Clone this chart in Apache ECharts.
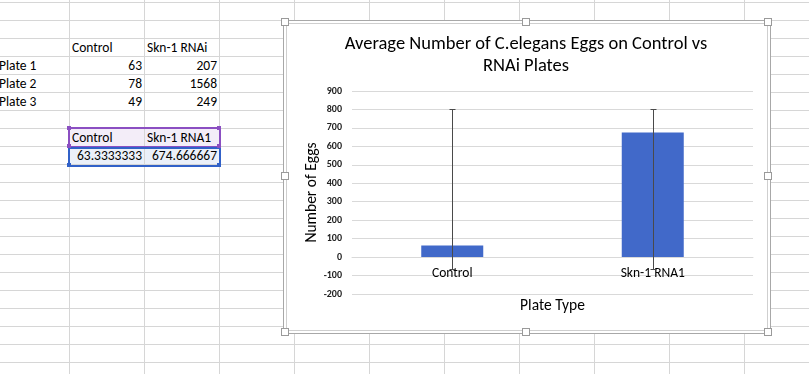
<!DOCTYPE html>
<html>
<head>
<meta charset="utf-8">
<script src="https://cdn.jsdelivr.net/npm/echarts@6/dist/echarts.min.js"></script>
<style>
  html, body { margin:0; padding:0; background:#fff; overflow:hidden; }
  body { width:809px; height:374px; position:relative; font-family: Carlito, Lato, sans-serif; }
  .vl { position:absolute; top:0; width:1px; height:374px; background:#d6d6d6; }
  .hl { position:absolute; left:0; height:1px; width:809px; background:#d6d6d6; }
  .cell { position:absolute; height:17px; line-height:17px; font-size:13.5px; color:#000; white-space:nowrap; }
  .r { text-align:right; }
  #frameOuter { position:absolute; left:283px; top:20px; width:486px; height:312px; background:#fff; border:1px solid #a8a8a8; }
  #frameInner { position:absolute; left:286px; top:23px; width:480px; height:306px; border:1px solid #cfcfcf; }
  .handle { position:absolute; width:6px; height:6px; background:#fff; border:1px solid #9a9a9a; }
  .sq { position:absolute; width:4px; height:4px; }
  #chart { position:absolute; left:0; top:0; width:809px; height:374px; }
</style>
</head>
<body>
<div id="sheet"></div>
<div id="frameOuter"></div>
<div id="frameInner"></div>
<div id="chart"></div>
<div id="handles"></div>
<script>
// ---- data ----
var sheetHeaders = ['Control', 'Skn-1 RNAi'];
var rowLabels = ['Plate 1', 'Plate 2', 'Plate 3'];
var controlEggs = [63, 78, 49];
var rnaiEggs = [207, 1568, 249];
var avgHeaders = ['Control', 'Skn-1 RNA1'];
var avgValues = ['63.3333333', '674.666667'];
var categories = ['Control', 'Skn-1 RNA1'];
var meanEggs = [63.3333333, 674.666667];
var errLow = [-65, -65];
var errHigh = [800, 800];
var yTicks = { min: -200, max: 900, interval: 100 };

// ---- spreadsheet ----
var sheet = document.getElementById('sheet');
function add(cls, style, text) {
  var d = document.createElement('div');
  d.className = cls;
  for (var k in style) d.style[k] = style[k];
  if (text !== undefined) d.textContent = text;
  sheet.appendChild(d);
  return d;
}
for (var x = 69 - 75; x < 809; x += 75) if (x >= 0) add('vl', { left: x + 'px' });
for (var y = 2; y < 374; y += 18) add('hl', { top: y + 'px' });

add('cell', { left: '72px', top: '39px' }, sheetHeaders[0]);
add('cell', { left: '147px', top: '39px' }, sheetHeaders[1]);
for (var i = 0; i < rowLabels.length; i++) {
  var t = (57 + 18 * i) + 'px';
  add('cell', { left: '-1px', top: t }, rowLabels[i]);
  add('cell r', { left: '69px', width: '73px', top: t }, String(controlEggs[i]));
  add('cell r', { left: '144px', width: '73px', top: t }, String(rnaiEggs[i]));
}
add('', { position: 'absolute', left: '70px', top: '129px', width: '149px', height: '17px', background: '#f3edf8' });
add('', { position: 'absolute', left: '70px', top: '147px', width: '149px', height: '17px', background: '#ebf0f9' });
add('', { position: 'absolute', left: '144px', top: '129px', width: '1px', height: '35px', background: '#d6d6d6' });
add('cell', { left: '72px', top: '129px' }, avgHeaders[0]);
add('cell', { left: '147px', top: '129px' }, avgHeaders[1]);
add('cell r', { left: '69px', width: '73px', top: '147px' }, avgValues[0]);
add('cell r', { left: '144px', width: '73px', top: '147px' }, avgValues[1]);
add('', { position: 'absolute', left: '68px', top: '127px', width: '149px', height: '17px', border: '2px solid #8b4fc2' });
add('', { position: 'absolute', left: '68px', top: '147px', width: '149px', height: '16px', border: '2px solid #3161c8' });
[[67,126,'#8b4fc2'],[217,126,'#8b4fc2'],[67,144,'#8b4fc2'],[217,144,'#8b4fc2'],[67,163,'#3161c8'],[217,163,'#3161c8']].forEach(function (p) {
  add('sq', { left: p[0] + 'px', top: p[1] + 'px', background: p[2] });
});

var hs = document.getElementById('handles');
[[285,22],[526,22],[768,22],[285,176],[768,176],[285,332],[526,332],[768,332]].forEach(function (p) {
  var d = document.createElement('div');
  d.className = 'handle';
  d.style.left = (p[0] - 4) + 'px';
  d.style.top = (p[1] - 4) + 'px';
  hs.appendChild(d);
});

// ---- chart ----
var chart = echarts.init(document.getElementById('chart'), null, { renderer: 'canvas' });
var font = 'Carlito, Lato, sans-serif';
chart.setOption({
  backgroundColor: 'transparent',
  animation: false,
  title: {
    text: 'Average Number of C.elegans Eggs on Control vs\nRNAi Plates',
    left: 526, top: 33, textAlign: 'center', padding: 0,
    textStyle: { fontFamily: font, fontSize: 18.5, fontWeight: 'normal', color: '#000', lineHeight: 22 }
  },
  grid: { left: 352, right: 56, top: 91, bottom: 80, containLabel: false },
  xAxis: {
    type: 'category', data: categories,
    offset: -37,
    axisLine: { onZero: false, lineStyle: { color: '#d9d9d9' } },
    axisTick: { show: false },
    axisLabel: { fontFamily: font, fontSize: 13.5, color: '#000', margin: 10 },
    name: 'Plate Type', nameLocation: 'middle', nameGap: 41,
    nameTextStyle: { fontFamily: font, fontSize: 15.5, color: '#000' }
  },
  yAxis: {
    type: 'value', min: yTicks.min, max: yTicks.max, interval: yTicks.interval,
    axisLine: { show: false }, axisTick: { show: false },
    splitLine: { lineStyle: { color: '#d9d9d9' } },
    axisLabel: { fontFamily: font, fontSize: 10, fontWeight: 'bold', color: '#222', margin: 10 },
    name: 'Number of Eggs', nameLocation: 'middle', nameRotate: 90, nameGap: 32,
    nameTextStyle: { fontFamily: font, fontSize: 15.5, color: '#000' }
  },
  series: [
    {
      type: 'bar', data: meanEggs, barWidth: 62,
      itemStyle: { color: '#4169c9' }
    },
    {
      type: 'custom',
      data: categories.map(function (c, i) { return [i, errLow[i], errHigh[i]]; }),
      encode: { x: 0, y: [1, 2] },
      z: 10,
      renderItem: function (params, api) {
        var lo = api.coord([api.value(0), api.value(1)]);
        var hi = api.coord([api.value(0), api.value(2)]);
        var x = Math.round(lo[0]) + 0.5;
        var w = 3;
        var st = { stroke: '#4a4a4a', lineWidth: 1 };
        return { type: 'group', children: [
          { type: 'line', shape: { x1: x, y1: lo[1], x2: x, y2: hi[1] }, style: st },
          { type: 'line', shape: { x1: x - w, y1: Math.round(lo[1]) + 0.5, x2: x + w, y2: Math.round(lo[1]) + 0.5 }, style: st },
          { type: 'line', shape: { x1: x - w, y1: Math.round(hi[1]) + 0.5, x2: x + w, y2: Math.round(hi[1]) + 0.5 }, style: st }
        ] };
      }
    }
  ]
});
</script>
</body>
</html>
